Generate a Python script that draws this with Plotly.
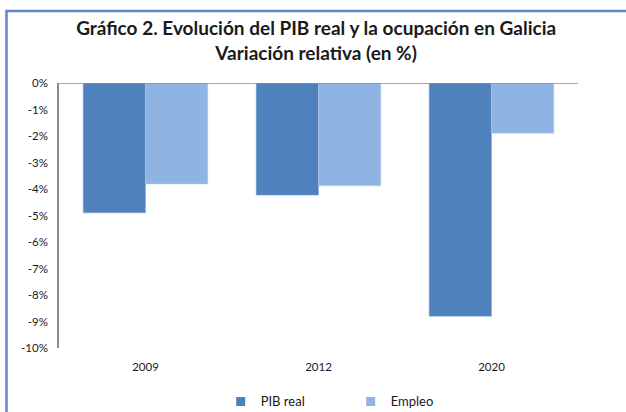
import plotly.graph_objects as go

years = ["2009", "2012", "2020"]
pib_real = [-4.9, -4.23, -8.8]
empleo = [-3.81, -3.88, -1.9]
tick_vals = [0, -1, -2, -3, -4, -5, -6, -7, -8, -9, -10]
tick_text = ["0%", "-1%", "-2%", "-3%", "-4%", "-5%", "-6%", "-7%", "-8%", "-9%", "-10%"]

font_family = "Lato, Carlito, Calibri, sans-serif"
pib_color = "#4F81BD"
emp_color = "#8FB4E3"

fig = go.Figure()
fig.add_trace(go.Bar(x=years, y=pib_real, name="PIB real", showlegend=False,
                     marker=dict(color=pib_color, line=dict(color="#7FA3D1", width=0.5))))
fig.add_trace(go.Bar(x=years, y=empleo, name="Empleo", showlegend=False,
                     marker=dict(color=emp_color, line=dict(color="#B5CEEE", width=0.5))))
# legend entries with small square keys, like the original
for name, col in [("PIB real", pib_color), ("Empleo", emp_color)]:
    fig.add_trace(go.Scatter(x=[None], y=[None], mode="markers", name=name,
                             marker=dict(symbol="square", size=9, color=col)))

# zero line at the top of the plot area
fig.add_shape(type="line", xref="paper", yref="y", x0=0, x1=1, y0=0, y1=0,
              line=dict(color="#8C8C8C", width=1.5))
# outer chart border (plot area spans 519 x 265 px)
fig.add_shape(type="rect", xref="paper", yref="paper",
              x0=-52.5 / 519, x1=1.2, y0=-0.3, y1=1 + 72 / 265,
              line=dict(color="#5B8BC9", width=2.5))

fig.update_layout(
    width=626, height=412,
    margin=dict(l=59, r=48, t=83, b=64, autoexpand=False),
    paper_bgcolor="white", plot_bgcolor="white",
    barmode="group", bargap=0.28, bargroupgap=0,
    font=dict(family=font_family, size=11.5, color="#1A1A1A"),
    title=dict(text="<b>Gráfico 2. Evolución del PIB real y la ocupación en Galicia<br>Variación relativa (en %)</b>",
               x=0.505, xanchor="center", y=0.914, yanchor="top",
               font=dict(size=19, color="#1A1A1A")),
    xaxis=dict(showgrid=False, showline=False, ticks="", zeroline=False,
               ticklabelstandoff=10, tickfont=dict(size=11.5)),
    yaxis=dict(range=[-10, 0], tickvals=tick_vals, ticktext=tick_text,
               showgrid=False, zeroline=False, showline=True, linecolor="#8C8C8C",
               linewidth=1.5, ticks="", ticklabelstandoff=7, tickfont=dict(size=11.5)),
    legend=dict(orientation="h", x=0.562, xanchor="center", y=-0.145, yanchor="top",
                font=dict(size=13), itemwidth=30, traceorder="normal",
                entrywidth=85, entrywidthmode="pixels"),
    showlegend=True,
)

# drop the default page margin so the figure sits at the window's corner
fig.write_html("out.html", config={"displayModeBar": False},
               post_script="document.body.style.margin='0';")
